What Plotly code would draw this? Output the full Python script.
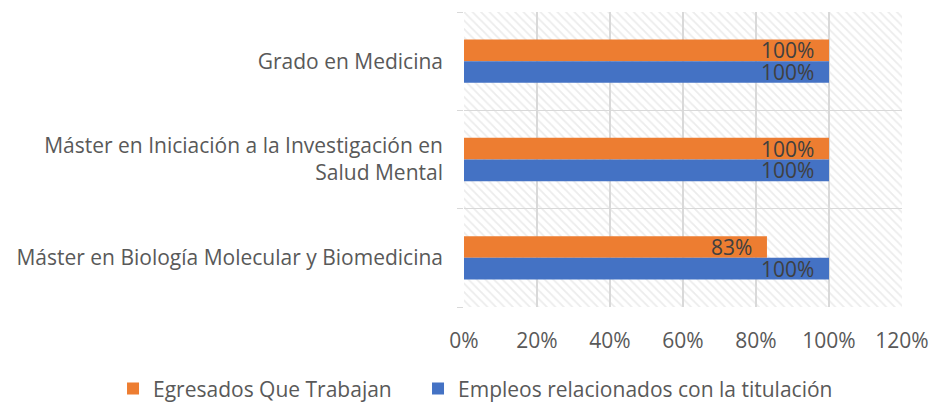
import plotly.graph_objects as go

categories = ["Máster en Biología Molecular y Biomedicina",
              "Máster en Iniciación a la Investigación en<br>Salud Mental",
              "Grado en Medicina"]
egresados = [83, 100, 100]
empleos = [100, 100, 100]
x_ticks = [0, 20, 40, 60, 80, 100, 120]
x_ticklabels = ["0%", "20%", "40%", "60%", "80%", "100%", "120%"]

ypos = list(range(len(categories)))
FONT = "Open Sans, sans-serif"
GRID = "#d9d9d9"
TXT = "#595959"
FS = 21
BW = 0.22

fig = go.Figure()
# hatched plot background
fig.add_trace(go.Bar(
    y=ypos, x=[x_ticks[-1]] * len(ypos), base=0, orientation="h",
    offset=-0.5, width=1,
    marker=dict(color="rgba(0,0,0,0)", line=dict(width=0),
                pattern=dict(shape="\\", fgcolor=GRID, bgcolor="rgba(0,0,0,0)",
                             size=6, solidity=0.3)),
    showlegend=False, hoverinfo="skip"))
fig.add_trace(go.Bar(
    y=ypos, x=egresados, orientation="h", name="Egresados Que Trabajan",
    offset=0.0, width=BW, marker=dict(color="#ED7D31", line=dict(width=0)),
    legend="legend"))
fig.add_trace(go.Bar(
    y=ypos, x=empleos, orientation="h", name="Empleos relacionados con la titulación",
    offset=-BW, width=BW, marker=dict(color="#4472C4", line=dict(width=0)),
    legend="legend2"))

# value labels at the inside end of each bar
annotations = []
for series, dy in ((egresados, BW / 2), (empleos, -BW / 2)):
    for p, v in zip(ypos, series):
        annotations.append(dict(
            x=v, y=p + dy, xref="x", yref="y", text=f"{v}%", showarrow=False,
            xanchor="right", yanchor="middle", xshift=-14, borderpad=0,
            font=dict(color="#404040", size=FS, family=FONT)))

legend_common = dict(orientation="h", xref="container", xanchor="left",
                     yref="container", y=0.035, yanchor="middle",
                     font=dict(size=FS, color=TXT, family=FONT), itemwidth=30,
                     bgcolor="rgba(0,0,0,0)")

fig.update_layout(
    width=931, height=403, barmode="overlay",
    paper_bgcolor="white", plot_bgcolor="white",
    margin=dict(l=464, r=29, t=12, b=96, autoexpand=False),
    font=dict(family=FONT, color=TXT, size=FS),
    annotations=annotations,
    legend=dict(x=0.1214, **legend_common),
    legend2=dict(x=0.449, **legend_common),
    xaxis=dict(range=[0, 120], tickvals=x_ticks, ticktext=x_ticklabels,
               showgrid=True, gridcolor=GRID, gridwidth=1.5, zeroline=False,
               showline=False, ticks="", ticklabelstandoff=19,
               tickfont=dict(size=FS, color=TXT, family=FONT)),
    yaxis=dict(range=[-0.5, 2.5], tickvals=ypos, ticktext=categories,
               showgrid=False, zeroline=False, showline=False, ticks="",
               ticklabelstandoff=20,
               tickfont=dict(size=FS, color=TXT, family=FONT),
               minor=dict(tick0=-0.5, dtick=1, showgrid=True, gridcolor=GRID,
                          gridwidth=1.5, ticks="outside", ticklen=6,
                          tickcolor=GRID)),
    hovermode=False,
)

fig.write_html("out.html",
               config={"displayModeBar": False, "staticPlot": True},
               post_script="document.body.style.margin='0';"
                           "document.body.style.overflow='hidden';")
